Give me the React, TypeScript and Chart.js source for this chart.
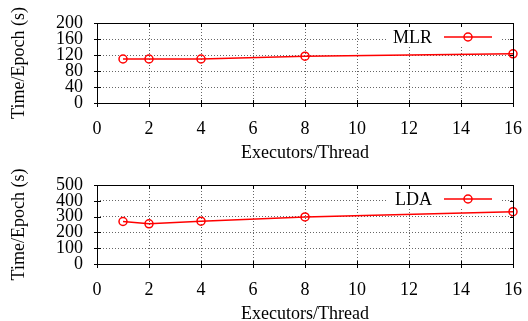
import React, { useEffect, useRef } from 'react';
import { Chart, registerables } from 'chart.js';

Chart.register(...registerables);

// ---- data ----
const executorsPerThread = [1, 2, 4, 8, 16];
const mlrTimePerEpoch = [110, 110, 110, 117, 123];
const ldaTimePerEpoch = [269, 254, 271, 298, 331];
const xTickStep = 2;
const xMax = 16;
const mlrYMax = 200;
const mlrYStep = 40;
const ldaYMax = 500;
const ldaYStep = 100;

const FONT = '"Liberation Serif", "Times New Roman", serif';
const RED = '#ff0000';

function buildChart(
  canvas: HTMLCanvasElement,
  label: string,
  values: number[],
  yMax: number,
  yStep: number,
  padTop: number
) {
  const framePlugin = {
    id: 'frameAndKey',
    afterDraw(chart: any) {
      const { ctx, chartArea } = chart;
      const { left, right, top, bottom } = chartArea;
      const xs = chart.scales.x;
      const ys = chart.scales.y;
      ctx.save();
      ctx.strokeStyle = '#000';
      ctx.lineWidth = 1;
      ctx.setLineDash([]);
      ctx.strokeRect(left + 0.5, top + 0.5, right - left, bottom - top);
      ctx.beginPath();
      xs.ticks.forEach((t: any) => {
        const px = Math.round(xs.getPixelForValue(t.value)) + 0.5;
        ctx.moveTo(px, bottom - 3);
        ctx.lineTo(px, bottom + 4);
        ctx.moveTo(px, top);
        ctx.lineTo(px, top + 4);
      });
      ys.ticks.forEach((t: any) => {
        const py = Math.round(ys.getPixelForValue(t.value)) + 0.5;
        ctx.moveTo(left - 3, py);
        ctx.lineTo(left + 4, py);
        ctx.moveTo(right - 3, py);
        ctx.lineTo(right + 1, py);
      });
      ctx.stroke();

      // key (opaque box, text, line sample with marker)
      const ky = top + 14;
      ctx.fillStyle = '#fff';
      ctx.fillRect(388, ky - 8, 112, 16);
      ctx.fillStyle = '#000';
      ctx.font = `18px ${FONT}`;
      ctx.textAlign = 'right';
      ctx.textBaseline = 'middle';
      ctx.fillText(label, 432, ky + 1);
      ctx.strokeStyle = RED;
      ctx.lineWidth = 1.5;
      ctx.beginPath();
      ctx.moveTo(444, ky);
      ctx.lineTo(492, ky);
      ctx.stroke();
      ctx.beginPath();
      ctx.arc(468, ky, 4, 0, Math.PI * 2);
      ctx.stroke();
      ctx.restore();
    },
  };

  const tickFont = { family: FONT, size: 18 };

  return new Chart(canvas, {
    type: 'line',
    data: {
      datasets: [
        {
          label,
          data: executorsPerThread.map((x, i) => ({ x, y: values[i] })),
          borderColor: RED,
          borderWidth: 1.5,
          pointRadius: 4,
          pointBorderWidth: 1.5,
          pointBorderColor: RED,
          pointBackgroundColor: 'rgba(0,0,0,0)',
          tension: 0,
          fill: false,
          clip: false as any,
        },
      ],
    },
    options: {
      animation: false,
      responsive: false,
      devicePixelRatio: 1,
      layout: { padding: { left: 0, right: 15, top: padTop, bottom: 0 } },
      plugins: {
        legend: { display: false },
        tooltip: { enabled: false },
        title: { display: false },
      },
      scales: {
        x: {
          type: 'linear',
          min: 0,
          max: xMax,
          ticks: { stepSize: xTickStep, autoSkip: false, maxRotation: 0, padding: 15, color: '#000', font: tickFont },
          grid: { color: '#666', lineWidth: 1, drawTicks: false },
          border: { display: false, dash: [1, 2] },
          title: {
            display: true,
            text: 'Executors/Thread',
            color: '#000',
            font: { family: FONT, size: 18, lineHeight: 0.75 },
            padding: 0,
          },
          afterFit(s: any) {
            s.height = 57;
            s.paddingLeft = 0;
            s.paddingRight = 0;
          },
        },
        y: {
          type: 'linear',
          min: 0,
          max: yMax,
          ticks: { stepSize: yStep, autoSkip: false, padding: 14, color: '#000', font: tickFont },
          grid: { color: '#666', lineWidth: 1, drawTicks: false },
          border: { display: false, dash: [1, 2] },
          title: {
            display: true,
            text: 'Time/Epoch (s)',
            color: '#000',
            font: { family: FONT, size: 18, lineHeight: 1 },
            padding: { top: 10, bottom: 0 },
          },
          afterFit(s: any) {
            s.width = 97;
            s.paddingTop = 0;
            s.paddingBottom = 0;
          },
        },
      },
    } as any,
    plugins: [framePlugin],
  });
}

export default function App() {
  const topRef = useRef<HTMLCanvasElement>(null);
  const bottomRef = useRef<HTMLCanvasElement>(null);

  useEffect(() => {
    const c1 = buildChart(topRef.current!, 'MLR', mlrTimePerEpoch, mlrYMax, mlrYStep, 23);
    const c2 = buildChart(bottomRef.current!, 'LDA', ldaTimePerEpoch, ldaYMax, ldaYStep, 25);
    return () => {
      c1.destroy();
      c2.destroy();
    };
  }, []);

  return (
    <div style={{ position: 'absolute', left: 0, top: 0, width: 528, height: 321, background: '#fff' }}>
      <canvas ref={topRef} width={528} height={160} style={{ display: 'block', width: 528, height: 160 }} />
      <canvas ref={bottomRef} width={528} height={161} style={{ display: 'block', width: 528, height: 161 }} />
    </div>
  );
}
